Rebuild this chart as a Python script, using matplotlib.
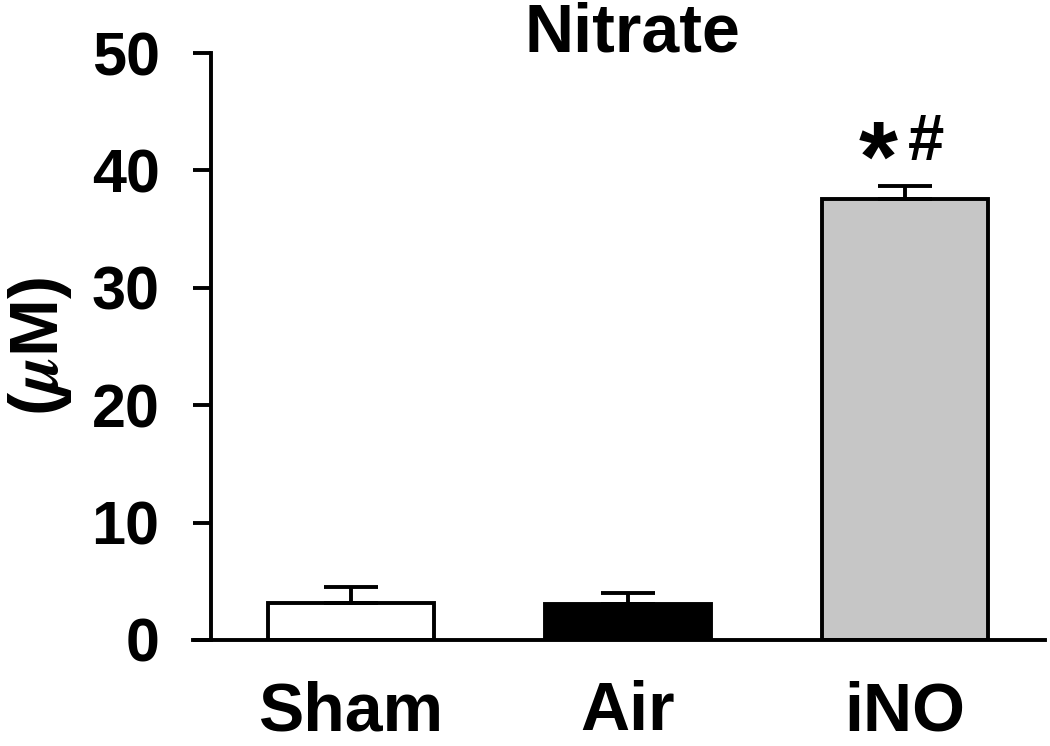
import matplotlib
matplotlib.use('Agg')
import matplotlib.pyplot as plt
import numpy as np

# data
groups = ['Sham', 'Air', 'iNO']
means = [3.15, 3.1, 37.6]
err_up = [1.35, 0.9, 1.1]
colors = ['white', 'black', '#c6c6c6']
yticks = [0, 10, 20, 30, 40, 50]


def main():
    plt.rcParams['font.family'] = ['Liberation Sans', 'DejaVu Sans']
    plt.rcParams['font.weight'] = 'bold'
    plt.rcParams['mathtext.fontset'] = 'stix'

    fig = plt.figure(figsize=(10.5, 7.46), dpi=100)
    ax = fig.add_axes([193 / 1050, 106 / 746, 852 / 1050, 587 / 746])

    x = np.arange(len(groups))
    lw = 2.8
    ax.bar(x, means, width=0.6, color=colors, edgecolor='black', linewidth=lw, zorder=2)
    ax.errorbar(x, means, yerr=[np.zeros(len(means)), err_up], fmt='none',
                ecolor='black', elinewidth=lw, capsize=19.5, capthick=lw, zorder=3)

    ax.set_xlim(-0.57, 2.505)
    ax.set_ylim(0, 50)
    ax.spines['top'].set_visible(False)
    ax.spines['right'].set_visible(False)
    ax.spines['left'].set_position(('data', -0.505))
    ax.spines['left'].set_linewidth(lw)
    ax.spines['bottom'].set_linewidth(lw)

    ax.set_yticks(yticks)
    ax.set_yticklabels([str(t) for t in yticks])
    ax.tick_params(axis='y', direction='out', length=13, width=lw, pad=24, labelsize=44)
    ax.set_xticks(x)
    ax.set_xticklabels(groups)
    ax.tick_params(axis='x', length=0, pad=29, labelsize=49)
    for lab in ax.get_xticklabels() + ax.get_yticklabels():
        lab.set_fontweight('bold')

    ax.set_ylabel(r'($\mu$M)', fontsize=50, fontweight='bold', labelpad=13)
    ax.set_title('Nitrate', fontsize=49, fontweight='bold', pad=1, x=0.516, y=1.0)

    # significance marks over iNO
    ax.text(1.903, 38.3, '*', fontsize=72, fontweight='bold', ha='center', va='baseline')
    ax.text(2.076, 40.9, '#', fontsize=47, fontweight='bold', ha='center', va='baseline')

    fig.savefig('out.png', dpi=100)


if __name__ == '__main__':
    main()
